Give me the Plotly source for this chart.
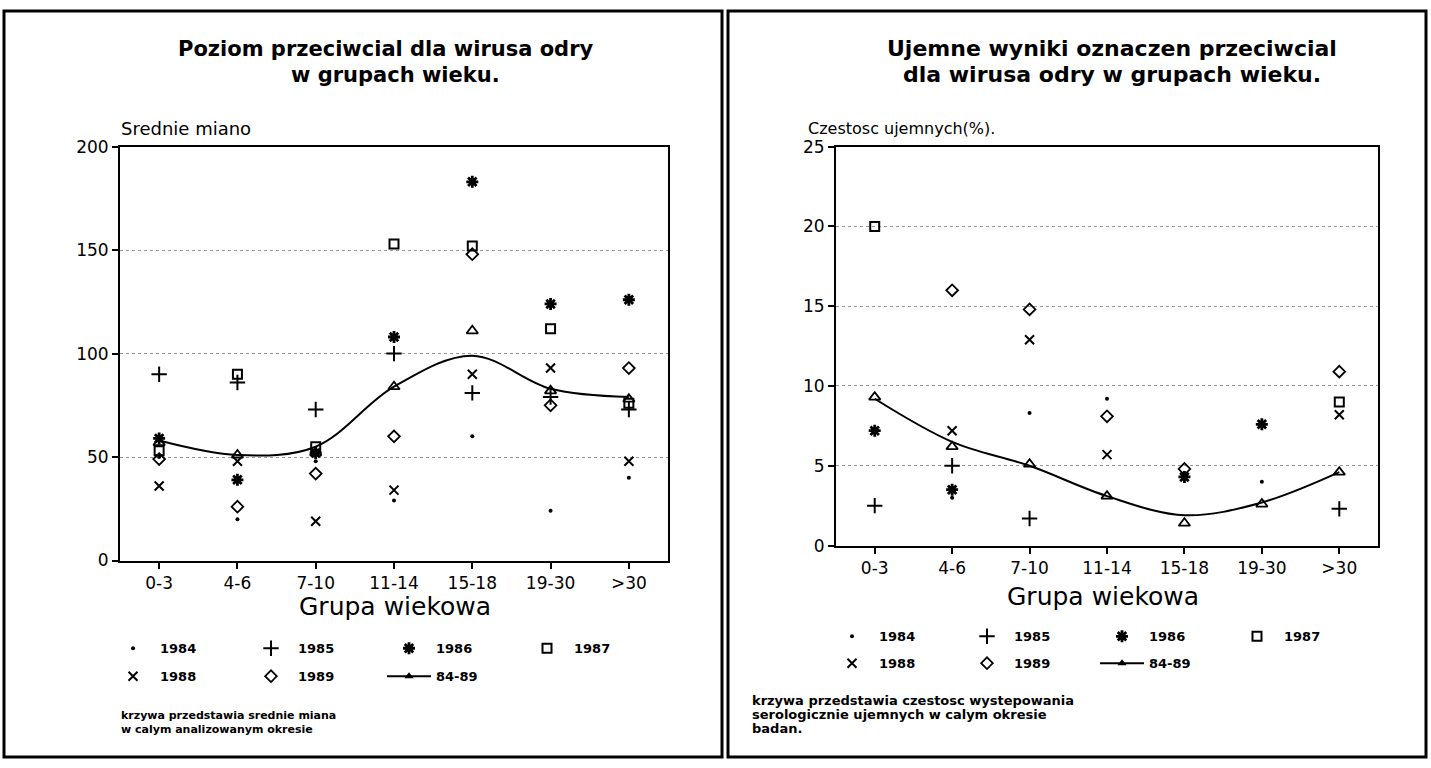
import plotly.graph_objects as go

W, H = 1431, 768
# the page draws the figure about 750 px tall, 8 px below the top edge
RH, OY = 750, 8


def px(x):
    return x / W


def py(y):
    return 1 - (y - OY) / RH


# ---------------- data ----------------
categories = ["0-3", "4-6", "7-10", "11-14", "15-18", "19-30", ">30"]
years = ["1984", "1985", "1986", "1987", "1988", "1989"]

# left panel: Srednie miano (mean titre)
miano_1984 = [50, 20, 48, 29, 60, 24, 40]
miano_1985 = [90, 86, 73, 100, 81, 79, 73]
miano_1986 = [59, 39, 52, 108, 183, 124, 126]
miano_1987 = [53, 90, 55, 153, 152, 112, 76]
miano_1988 = [36, 48, 19, 34, 90, 93, 48]
miano_1989 = [49, 26, 42, 60, 148, 75, 93]
miano_8489 = [57, 51, 52, 84, 111, 82, 78]
miano_curve = [58, 51, 55, 84, 99, 83, 79]

# right panel: Czestosc ujemnych (%)
ujemne_1984 = [None, 3.0, 8.3, 9.2, None, 4.0, None]
ujemne_1985 = [2.5, 5.0, 1.7, None, None, None, 2.3]
ujemne_1986 = [7.2, 3.5, None, None, 4.3, 7.6, None]
ujemne_1987 = [20.0, None, None, None, None, None, 9.0]
ujemne_1988 = [None, 7.2, 12.9, 5.7, None, None, 8.2]
ujemne_1989 = [None, 16.0, 14.8, 8.1, 4.8, None, 10.9]
ujemne_8489 = [9.3, 6.2, 5.1, 3.1, 1.4, 2.6, 4.6]
ujemne_curve = [9.2, 6.5, 5.0, 3.1, 1.9, 2.7, 4.6]

# ---------------- styles ----------------
FONT = "DejaVu Sans"
marker_styles = {
    "1984": dict(symbol="circle", size=4, color="black", line=dict(width=0, color="black")),
    "1985": dict(symbol="cross-thin", size=11, color="black", line=dict(width=2, color="black")),
    "1986": dict(symbol="asterisk", size=10, color="black", line=dict(width=2.8, color="black")),
    "1987": dict(symbol="square-open", size=9, color="black", line=dict(width=2, color="black")),
    "1988": dict(symbol="x-thin", size=9, color="black", line=dict(width=2, color="black")),
    "1989": dict(symbol="diamond-open", size=9, color="black", line=dict(width=1.8, color="black")),
}
tri_style = dict(symbol="triangle-up-open", size=10, color="black", line=dict(width=1.8, color="black"))

fig = go.Figure()


def add_panel(xa, ya, series, triangles, curve, leg_a, leg_b):
    for i, (name, vals) in enumerate(zip(years, series)):
        fig.add_trace(go.Scatter(
            x=categories, y=vals, mode="markers", name=name,
            xaxis=xa, yaxis=ya, marker=marker_styles[name],
            legend=leg_a if i < 4 else leg_b, cliponaxis=False,
        ))
    fig.add_trace(go.Scatter(
        x=categories, y=curve, mode="lines", name="84-89",
        line=dict(shape="spline", smoothing=1.0, color="black", width=2),
        xaxis=xa, yaxis=ya, showlegend=False,
    ))
    fig.add_trace(go.Scatter(
        x=categories, y=triangles, mode="markers", name="84-89",
        marker=tri_style, xaxis=xa, yaxis=ya, showlegend=False, cliponaxis=False,
    ))
    # legend-only entry (line with triangle)
    fig.add_trace(go.Scatter(
        x=[None], y=[None], mode="lines+markers", name="84-89",
        line=dict(color="black", width=2),
        marker=dict(symbol="triangle-up", size=8, color="black"),
        xaxis=xa, yaxis=ya, legend=leg_b,
    ))


add_panel("x", "y",
          [miano_1984, miano_1985, miano_1986, miano_1987, miano_1988, miano_1989],
          miano_8489, miano_curve, "legend", "legend2")
add_panel("x2", "y2",
          [ujemne_1984, ujemne_1985, ujemne_1986, ujemne_1987, ujemne_1988, ujemne_1989],
          ujemne_8489, ujemne_curve, "legend3", "legend4")

axis_common = dict(
    showline=True, linewidth=2, linecolor="black", mirror=True,
    ticks="outside", ticklen=6, tickwidth=1.5, tickcolor="black",
    tickfont=dict(family=FONT, size=17, color="black"),
    zeroline=False,
)
xcommon = dict(axis_common, type="category", range=[-0.5, 6.5], showgrid=False)
ycommon = dict(axis_common, showgrid=True, gridcolor="#999999", griddash="dot", gridwidth=1)


def leg(x, y, ew):
    return dict(
        orientation="h", xanchor="left", yanchor="middle", x=px(x), y=py(y),
        font=dict(family=FONT, size=13, color="black", weight="bold"),
        bgcolor="rgba(0,0,0,0)", itemwidth=44, entrywidth=ew, entrywidthmode="pixels",
        itemclick=False, itemdoubleclick=False, tracegroupgap=0,
    )


annotations = []


def note(text, x, y, size, bold=False, xanchor="center", yanchor="middle"):
    annotations.append(dict(
        text=text, x=px(x), y=py(y), xref="paper", yref="paper",
        xanchor=xanchor, yanchor=yanchor, showarrow=False, align="left",
        font=dict(family=FONT, size=size, color="black", weight="bold" if bold else "normal"),
    ))


# left panel texts
note("Poziom przeciwcial dla wirusa odry", 386, 47, 21, bold=True)
note("w grupach wieku.", 395, 73, 21, bold=True)
note("Srednie miano", 119, 127, 18, xanchor="left")
note("Grupa wiekowa", 395, 606, 25)
note("krzywa przedstawia srednie miana", 119, 715, 11, bold=True, xanchor="left")
note("w calym analizowanym okresie", 119, 729, 11, bold=True, xanchor="left")

# right panel texts
note("Ujemne wyniki oznaczen przeciwcial", 1112, 47, 22, bold=True)
note("dla wirusa odry w grupach wieku.", 1112, 73, 22, bold=True)
note("Czestosc ujemnych(%).", 806, 127, 16, xanchor="left")
note("Grupa wiekowa", 1103, 596, 25)
note("krzywa przedstawia czestosc wystepowania", 750, 700, 13, bold=True, xanchor="left")
note("serologicznie ujemnych w calym okresie", 750, 714, 13, bold=True, xanchor="left")
note("badan.", 750, 728, 13, bold=True, xanchor="left")

shapes = [
    dict(type="rect", xref="paper", yref="paper", x0=px(4), x1=px(722), y0=py(757), y1=py(9),
         line=dict(color="black", width=3)),
    dict(type="rect", xref="paper", yref="paper", x0=px(728), x1=px(1426), y0=py(757), y1=py(9),
         line=dict(color="black", width=3)),
]

fig.update_layout(
    width=W, height=H,
    margin=dict(l=0, r=0, t=0, b=0),
    paper_bgcolor="white", plot_bgcolor="white",
    font=dict(family=FONT, color="black"),
    xaxis=dict(xcommon, domain=[px(120), px(668)], anchor="y"),
    yaxis=dict(ycommon, domain=[py(560), py(145)], anchor="x", range=[0, 200], tick0=0, dtick=50),
    xaxis2=dict(xcommon, domain=[px(836), px(1378)], anchor="y2"),
    yaxis2=dict(ycommon, domain=[py(545), py(145)], anchor="x2", range=[0, 25], tick0=0, dtick=5),
    legend=leg(106, 648, 79),
    legend2=leg(106, 676, 79),
    legend3=leg(825, 636, 76),
    legend4=leg(825, 663, 76),
    annotations=annotations,
    shapes=shapes,
    showlegend=True,
)

fig.write_html("out.html")
